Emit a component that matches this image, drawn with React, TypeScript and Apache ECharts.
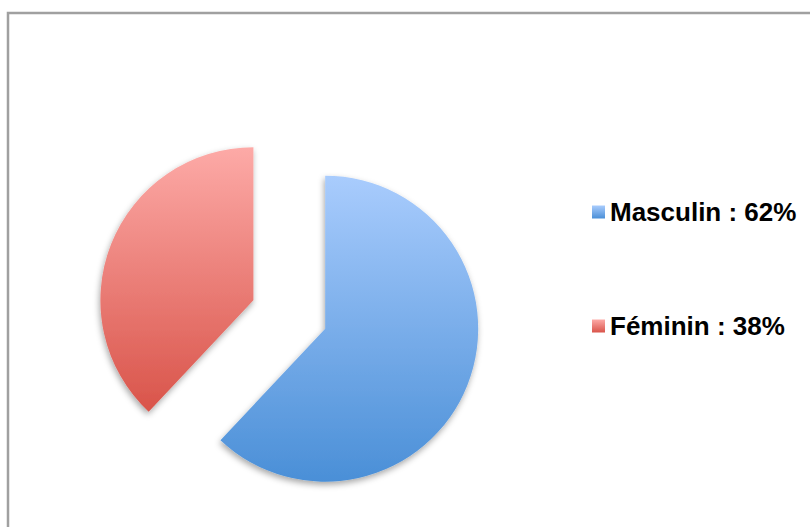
import React, { useEffect, useRef } from "react";
import * as echarts from "echarts";

const categories = ["Masculin", "Féminin"];
const values = [62, 38];
const topColors = ["#a9ccfd", "#fdaaa7"];
const bottomColors = ["#4a8fd7", "#d9544a"];

export default function App() {
  const ref = useRef<HTMLDivElement>(null);
  useEffect(() => {
    if (!ref.current) return;
    const chart = echarts.init(ref.current, null, { renderer: "svg" });
    const data = categories.map((name, i) => ({
      name,
      value: values[i],
      selected: true,
      itemStyle: {
        color: new echarts.graphic.LinearGradient(0, 0, 0, 1, [
          { offset: 0, color: topColors[i] },
          { offset: 1, color: bottomColors[i] },
        ]),
      },
    }));
    chart.setOption({
      animation: false,
      backgroundColor: "#ffffff",
      graphic: [
        {
          type: "rect",
          shape: { x: 8, y: 13, width: 900, height: 700 },
          style: { fill: "none", stroke: "#a0a0a0", lineWidth: 2.5 },
          silent: true,
        },
      ],
      legend: {
        orient: "vertical",
        left: 587,
        top: 194,
        icon: "rect",
        itemWidth: 13,
        itemHeight: 13,
        itemGap: 88,
        selectedMode: false,
        data: categories,
        formatter: (name: string) => {
          const i = categories.indexOf(name);
          return `${name} : ${values[i]}%`;
        },
        textStyle: {
          fontFamily: "Liberation Sans, Arial, sans-serif",
          fontWeight: "bold",
          fontSize: 26,
          color: "#000000",
        },
      },
      series: [
        {
          type: "pie",
          center: [289.3, 314.5],
          radius: 153,
          startAngle: 90,
          clockwise: true,
          selectedMode: "multiple",
          selectedOffset: 38.6,
          label: { show: false },
          labelLine: { show: false },
          emphasis: { disabled: true },
          itemStyle: {
            shadowBlur: 6,
            shadowOffsetX: -1,
            shadowOffsetY: 3,
            shadowColor: "rgba(0,0,0,0.35)",
          },
          data,
        },
      ],
    });
    return () => chart.dispose();
  }, []);
  return (
    <div
      ref={ref}
      style={{ position: "fixed", left: 0, top: 0, width: 810, height: 527 }}
    />
  );
}
